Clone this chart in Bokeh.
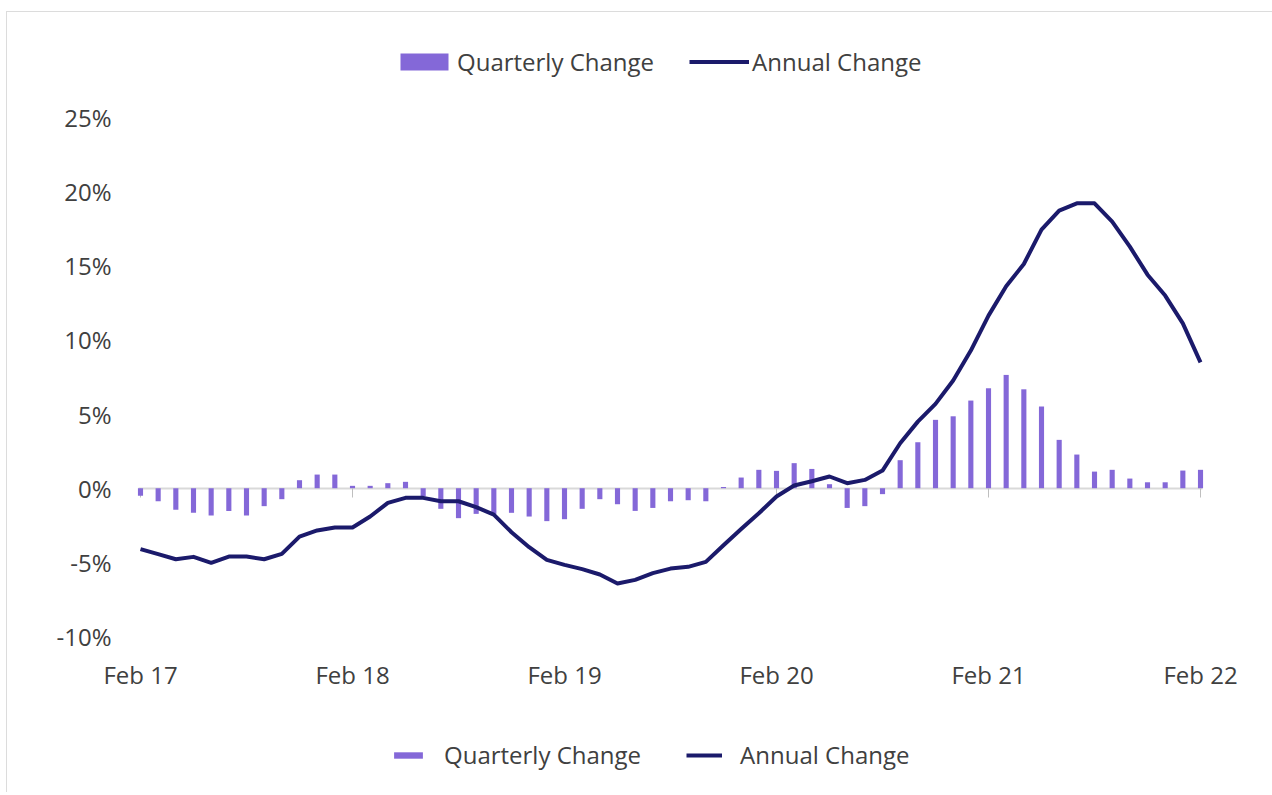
from bokeh.plotting import figure
from bokeh.models import ColumnDataSource, Legend, LegendItem, LinearAxis, FixedTicker, Range1d
from bokeh.embed import file_html
from bokeh.resources import INLINE

# ---------------- data ----------------
month_names = ["Feb", "Mar", "Apr", "May", "Jun", "Jul", "Aug", "Sep", "Oct", "Nov", "Dec", "Jan"]
months = [f"{month_names[i % 12]} {17 + (i + 1) // 12}" for i in range(61)]

quarterly_change = [
    -0.50, -0.88, -1.46, -1.66, -1.84, -1.53, -1.84, -1.21, -0.74, 0.54, 0.92, 0.92,
    0.16, 0.16, 0.34, 0.43, -0.55, -1.39, -2.02, -1.73, -1.73, -1.66, -1.91, -2.22,
    -2.09, -1.39, -0.74, -1.08, -1.53, -1.33, -0.88, -0.81, -0.88, 0.08, 0.72, 1.24,
    1.17, 1.69, 1.30, 0.27, -1.33, -1.21, -0.40, 1.89, 3.10, 4.61, 4.85, 5.91,
    6.74, 7.64, 6.67, 5.51, 3.26, 2.27, 1.12, 1.24, 0.65, 0.40, 0.40, 1.19,
    1.24,
]
annual_change = [
    -4.11, -4.45, -4.79, -4.63, -5.03, -4.61, -4.61, -4.79, -4.43, -3.26, -2.85, -2.65,
    -2.65, -1.91, -0.99, -0.65, -0.65, -0.88, -0.88, -1.28, -1.78, -2.97, -3.98, -4.83,
    -5.17, -5.46, -5.82, -6.43, -6.18, -5.73, -5.42, -5.30, -4.97, -3.85, -2.75, -1.69,
    -0.56, 0.18, 0.47, 0.79, 0.34, 0.56, 1.19, 3.03, 4.49, 5.69, 7.26, 9.28,
    11.64, 13.62, 15.12, 17.44, 18.72, 19.21, 19.21, 17.98, 16.29, 14.40, 12.99, 11.12,
    8.49,
]
x_tick_idx = [0, 12, 24, 36, 48, 60]
y_ticks = [-10, -5, 0, 5, 10, 15, 20, 25]

# ---------------- styling ----------------
FONT = "Open Sans"
FSIZE = "24px"
TEXT = "#404040"
BAR = "#8468D8"
LINE = "#1B1A6B"
EDGE_PAD = 0.113  # how far the baseline extends past the first/last month

src = ColumnDataSource(dict(x=list(range(len(months))), q=quarterly_change, a=annual_change, m=months))

p = figure(frame_width=1265, frame_height=780,
           min_border_left=0, min_border_right=0, min_border_top=0, min_border_bottom=0,
           x_range=Range1d(-7.528, 64.075), y_range=Range1d(-20.52, 32.08),
           output_backend="svg", toolbar_location=None)
p.margin = (11, 0, 0, 6)
p.styles = {"border-top": "1px solid #dcdcdc", "border-left": "1px solid #dcdcdc"}
p.outline_line_color = None
p.xgrid.grid_line_color = None
p.ygrid.grid_line_color = None
p.background_fill_color = "white"
p.border_fill_color = "white"

bars = p.vbar(x="x", top="q", width=0.29, source=src, fill_color=BAR, line_color=None)
line = p.line(x="x", y="a", source=src, line_color=LINE, line_width=4, line_join="round")

x_lo = -EDGE_PAD
x_hi = len(months) - 1 + EDGE_PAD

# label axis (fixed at the bottom of the value range)
xa = p.xaxis[0]
xa.fixed_location = y_ticks[0]
xa.ticker = FixedTicker(ticks=x_tick_idx)
xa.major_label_overrides = {i: months[i] for i in x_tick_idx}
xa.axis_line_color = None
xa.major_tick_line_color = None
xa.minor_tick_line_color = None
xa.major_label_standoff = 15
xa.major_label_text_font = FONT
xa.major_label_text_font_size = FSIZE
xa.major_label_text_color = TEXT

# zero line axis with ticks
zero_axis = LinearAxis(fixed_location=0, ticker=FixedTicker(ticks=x_tick_idx),
                       bounds=(x_lo, x_hi),
                       axis_line_color="#d9d9d9", axis_line_width=2,
                       major_tick_line_color="#bfbfbf", major_tick_out=9, major_tick_in=0,
                       minor_tick_line_color=None,
                       major_label_overrides={i: "" for i in x_tick_idx},
                       major_label_text_color=None)
zero_axis.level = "underlay"
p.add_layout(zero_axis, "below")

ya = p.yaxis[0]
ya.fixed_location = x_lo
ya.ticker = FixedTicker(ticks=y_ticks)
ya.major_label_overrides = {v: f"{v}%" for v in y_ticks}
ya.axis_line_color = None
ya.major_tick_line_color = None
ya.minor_tick_line_color = None
ya.major_label_standoff = 21
ya.major_label_text_font = FONT
ya.major_label_text_font_size = FSIZE
ya.major_label_text_color = TEXT


def make_legend(loc, gw, gh, standoff, spacing):
    return Legend(items=[LegendItem(label="Quarterly Change", renderers=[bars]),
                         LegendItem(label="Annual Change", renderers=[line])],
                  location=loc, orientation="horizontal",
                  glyph_width=gw, glyph_height=gh, label_standoff=standoff, spacing=spacing,
                  padding=0, margin=0, border_line_color=None, background_fill_alpha=0,
                  label_text_font=FONT, label_text_font_size=FSIZE, label_text_color=TEXT)


p.add_layout(make_legend((387, 714), 60, 21, 3, 35), "center")
p.add_layout(make_legend((383, 21), 36, 8, 18, 45), "center")

open("out.html", "w").write(file_html(p, INLINE))
